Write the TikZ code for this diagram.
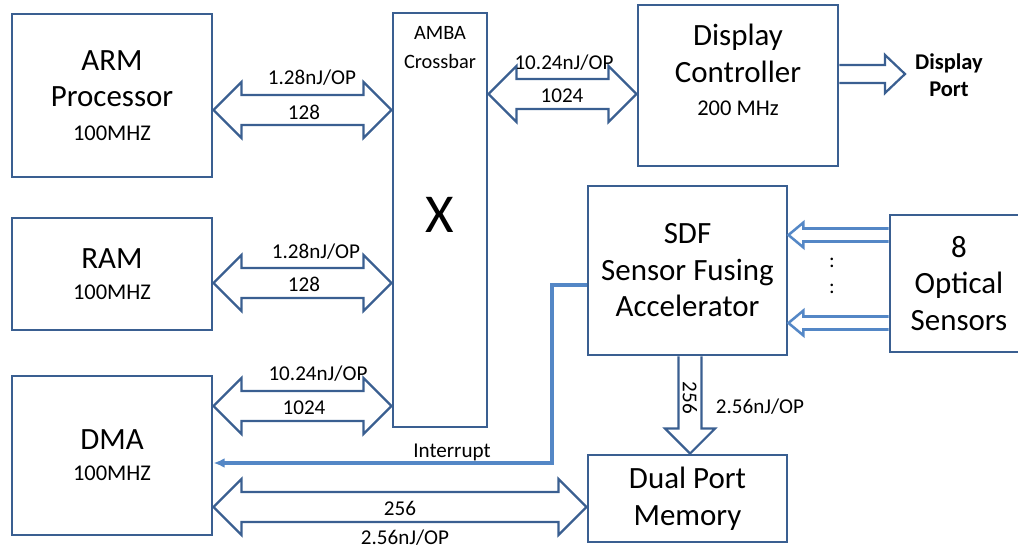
\documentclass[tikz,border=0pt]{standalone}
\usepackage{fontspec}
\setmainfont{Carlito}
\usetikzlibrary{calc}
\usetikzlibrary{arrows.meta}
\definecolor{boxc}{RGB}{58,95,145}
\definecolor{linkc}{RGB}{84,135,198}
\tikzstyle{box}=[draw=boxc,line width=2pt,align=center,inner sep=0pt,font=\fontsize{22}{26}\selectfont]
\tikzstyle{blk}=[draw=boxc,line width=1.6pt,line join=miter]
\tikzstyle{sensarr}=[draw=linkc,line width=1.8pt,line join=miter]
\tikzstyle{irq}=[draw=linkc,line width=2.5pt,-{Latex[length=8pt,width=7pt]}]
\tikzstyle{lbl}=[font=\fontsize{15}{18}\selectfont,inner sep=0pt]
\newcommand{\freq}[1]{{\fontsize{16}{19}\selectfont #1}}
% block arrow with two heads, from #1.east to #2.west at the level of #3
\newcommand{\dblarrow}[3]{%
  \draw[blk] (#1.east |- #3) -- ++(28,-28) -- ++(0,13) -- ($(#2.west |- #3)+(-28,-15)$)
    -- ++(0,-13) -- (#2.west |- #3) -- ++(-28,28) -- ++(0,-13)
    -- ($(#1.east |- #3)+(28,15)$) -- ++(0,13) -- cycle;}

\begin{document}
\begin{tikzpicture}[x=0.025cm,y=-0.025cm]
  \useasboundingbox (0,0) rectangle (1018,550);

  % blocks
  \node[box,minimum width=5cm,minimum height=4.075cm] (arm) at (112,95.5) {ARM\\Processor\\[-2pt]\freq{100MHZ}};
  \node[box,minimum width=5cm,minimum height=2.8cm] (ram) at (112,274) {RAM\\[-4pt]\freq{100MHZ}};
  \node[box,minimum width=5cm,minimum height=3.975cm] (dma) at (112,455.5) {DMA\\[-4pt]\freq{100MHZ}};
  \node[box,minimum width=2.35cm,minimum height=10.35cm] (xbar) at (440,220) {};
  \node[lbl,align=center,font=\fontsize{14.5}{20.5}\selectfont] (xbartxt) at (440,47.5) {AMBA\\Crossbar};
  \node[lbl,font=\fontsize{39}{40}\selectfont] (xsym) at (440,215) {X};
  \node[box,minimum width=5cm,minimum height=4.025cm] (disp) at (738,85.5) {};
  \node[align=center,inner sep=0pt,font=\fontsize{22}{26.5}\selectfont] (disptxt) at (738,70) {Display\\Controller\\[-3pt]\freq{200 MHz}};
  \node[box,minimum width=4.975cm,minimum height=4.225cm] (sdf) at (687.5,270.5) {SDF\\Sensor Fusing\\Accelerator};
  \node[box,minimum width=3.45cm,minimum height=3.425cm] (sens) at (959,283.5) {8\\Optical\\Sensors};
  \node[box,minimum width=4.975cm,minimum height=2.175cm] (mem) at (687.5,498.5) {Dual Port\\Memory};
  \node[lbl,align=center,font=\bfseries\fontsize{16}{19}\selectfont] (dport) at (949,75.5) {Display\\Port};

  % levels of the buses
  \coordinate (l1) at (0,110);
  \coordinate (l2) at (0,283);
  \coordinate (l3) at (0,406);
  \coordinate (l4) at (0,94);
  \coordinate (l5) at (0,507);

  % buses
  \dblarrow{arm}{xbar}{l1}
  \dblarrow{ram}{xbar}{l2}
  \dblarrow{dma}{xbar}{l3}
  \dblarrow{xbar}{disp}{l4}
  \dblarrow{dma}{mem}{l5}

  \node[lbl] (e1) at (312,78) {1.28nJ/OP};
  \node[lbl] (w1) at (304,112) {128};
  \node[lbl] (e2) at (316,252) {1.28nJ/OP};
  \node[lbl] (w2) at (304,284) {128};
  \node[lbl] (e3) at (318,374) {10.24nJ/OP};
  \node[lbl] (w3) at (304,408) {1024};
  \node[lbl] (e4) at (564,63) {10.24nJ/OP};
  \node[lbl] (w4) at (562,96) {1024};
  \node[lbl] (w5) at (400,508) {256};
  \node[lbl] (e5) at (405,538) {2.56nJ/OP};

  % display port
  \coordinate (dptip) at (905,74);
  \draw[blk] ($(disp.east |- dptip)+(0,-9)$) -- ($(dptip)+(-20,-9)$) -- ++(0,-10) -- (dptip)
    -- ++(-20,19) -- ++(0,-10) -- ($(disp.east |- dptip)+(0,9)$);

  % sensor inputs
  \coordinate (s1) at (0,235);
  \coordinate (s2) at (0,323);
  \foreach \s in {s1,s2}
    \draw[sensarr] ($(sens.west |- \s)+(0,-6.5)$) -- ($(sdf.east |- \s)+(15,-6.5)$) -- ++(0,-6)
      -- (sdf.east |- \s) -- ++(15,12.5) -- ++(0,-6) -- ($(sens.west |- \s)+(0,6.5)$);
  \node[lbl] (dots1) at (832,263) {:};
  \node[lbl] (dots2) at (832,289) {:};

  % sdf to memory
  \coordinate (dn) at (690,0);
  \draw[blk] ($(dn |- sdf.south)+(-11.5,0)$) -- ($(dn |- mem.north)+(-11.5,-25)$) -- ++(-13.5,0)
    -- (dn |- mem.north) -- ++(25,-25) -- ++(-13.5,0) -- ($(dn |- sdf.south)+(11.5,0)$);
  \node[lbl,rotate=-90] (w6) at (690,398) {256};
  \node[lbl] (e6) at (760,407) {2.56nJ/OP};

  % interrupt
  \coordinate (irqa) at (552,285);
  \coordinate (irqb) at (552,463);
  \draw[irq] (sdf.west |- irqa) -- (irqa) -- (irqb) -- (dma.east |- irqb);
  \node[lbl] (irqtxt) at (452,452) {Interrupt};
\end{tikzpicture}
\end{document}
